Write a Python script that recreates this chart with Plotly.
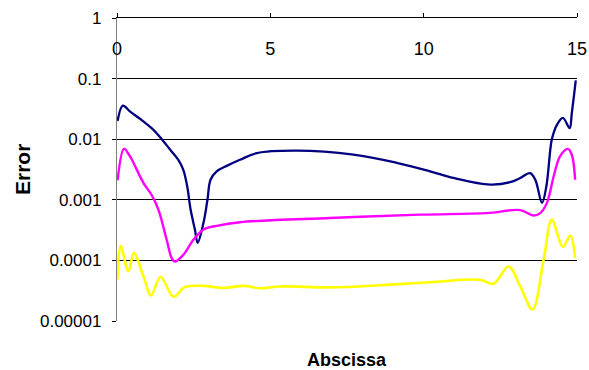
import plotly.graph_objects as go

# Abscissa samples and error values for each curve
x_navy = [0.02, 0.19, 0.42, 0.86, 1.18, 1.46, 1.73, 2.0, 2.16, 2.29, 2.40, 2.54, 2.63,
          2.82, 2.95, 3.05, 3.25, 3.58, 4.01, 4.56, 5.86, 7.71, 9.12, 10.21, 10.97,
          12.17, 12.82, 13.15, 13.47, 13.64, 13.86, 14.0, 14.13, 14.18, 14.35, 14.54,
          14.76, 14.83, 14.96]
err_navy = [0.0200, 0.0357, 0.0288, 0.0197, 0.0144, 0.0100, 0.00676, 0.00457, 0.00316,
            0.00166, 0.00069, 0.000324, 0.000195, 0.000417, 0.00100, 0.00214, 0.00295,
            0.00363, 0.00457, 0.00589, 0.00646, 0.00555, 0.00407, 0.00295, 0.00229,
            0.00178, 0.00195, 0.00229, 0.00275, 0.00214, 0.00089, 0.00166, 0.00676,
            0.0100, 0.0174, 0.0224, 0.0153, 0.0269, 0.0933]

x_magenta = [0.02, 0.23, 0.42, 0.86, 1.13, 1.35, 1.62, 1.78, 1.89, 2.16, 2.49, 2.82, 3.25,
             4.01, 6.95, 9.89, 12.06, 13.15, 13.58, 13.80, 14.02, 14.24, 14.45, 14.70,
             14.83, 14.94]
err_magenta = [0.00209, 0.00692, 0.00525, 0.00191, 0.00120, 0.00069, 0.000219, 0.000110,
               0.0000955, 0.000123, 0.000219, 0.000324, 0.000372, 0.000427, 0.000501,
               0.000569, 0.000603, 0.000676, 0.000550, 0.000603, 0.00089, 0.00245,
               0.00525, 0.00692, 0.00555, 0.00214]

x_yellow = [0.01, 0.12, 0.37, 0.55, 0.86, 1.11, 1.42, 1.84, 2.22, 2.82, 3.47, 4.12, 4.67,
            5.32, 6.95, 8.58, 10.21, 11.84, 12.28, 12.77, 13.15, 13.55, 13.91, 14.18,
            14.54, 14.78, 14.94]
err_yellow = [0.0000479, 0.000174, 0.0000661, 0.000132, 0.0000550, 0.0000263, 0.0000537,
              0.0000251, 0.0000363, 0.0000380, 0.0000351, 0.0000380, 0.0000347, 0.0000372,
              0.0000359, 0.0000389, 0.0000437, 0.0000479, 0.0000412, 0.0000794, 0.0000372,
              0.0000155, 0.000102, 0.000468, 0.000166, 0.000257, 0.000110]

y_tickvals = [1e-5, 1e-4, 1e-3, 1e-2, 1e-1, 1]
y_ticktext = ["0.00001", "0.0001", "0.001", "0.01", "0.1", "1"]
x_tickvals = [0, 5, 10, 15]

label_font = "Liberation Sans, Arial, sans-serif"

fig = go.Figure()
for xs, ys, col, w in [(x_navy, err_navy, "#000080", 2.3),
                       (x_magenta, err_magenta, "#FF00FF", 2.4),
                       (x_yellow, err_yellow, "#FFFF00", 2.6)]:
    fig.add_trace(go.Scatter(x=xs, y=ys, mode="lines",
                             line=dict(color=col, width=w, shape="spline", smoothing=1.0),
                             showlegend=False, hoverinfo="skip"))

fig.update_layout(
    width=589, height=370,
    margin=dict(l=117, r=12, t=18, b=49),
    paper_bgcolor="white", plot_bgcolor="white",
    xaxis=dict(
        range=[0, 15], side="top", tickvals=x_tickvals, automargin=False,
        ticks="outside", ticklen=4, tickcolor="black", tickwidth=1,
        ticklabelposition="inside", ticklabelstandoff=25, ticklabeloverflow="allow",
        tickfont=dict(family=label_font, size=18, color="black"),
        showline=True, linecolor="black", linewidth=1,
        showgrid=False, zeroline=False,
    ),
    yaxis=dict(
        type="log", range=[-5, 0], tickvals=y_tickvals, ticktext=y_ticktext,
        automargin=False,
        ticks="outside", ticklen=4, tickcolor="black", tickwidth=1,
        ticklabelstandoff=7,
        tickfont=dict(family=label_font, size=17, color="black"),
        showline=True, linecolor="#808080", linewidth=1.3,
        showgrid=True, gridcolor="black", gridwidth=1, zeroline=False,
    ),
)

fig.add_annotation(text="<b>Abscissa</b>", xref="paper", yref="paper", x=0.5, y=0,
                   yshift=-39, yanchor="middle", showarrow=False,
                   font=dict(family=label_font, size=18, color="black"))
fig.add_annotation(text="<b>Error</b>", xref="paper", yref="paper", x=0, y=0.5,
                   xshift=-94.5, xanchor="center", yanchor="middle", textangle=-90,
                   showarrow=False,
                   font=dict(family=label_font, size=21, color="black"))

fig.write_html("out.html")
